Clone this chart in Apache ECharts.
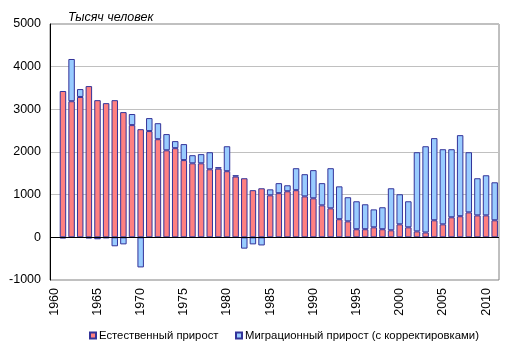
<!DOCTYPE html>
<html><head><meta charset="utf-8">
<script src="https://cdn.jsdelivr.net/npm/echarts@6/dist/echarts.min.js"></script>
<style>html,body{margin:0;padding:0;background:#fff}#c{width:514px;height:357px}</style>
</head><body><div id="c"></div>
<script>
var years = [];
for (var y = 1960; y <= 2011; y++) years.push(String(y));
var natural = [null,
 3430, 3190, 3290, 3545, 3215, 3145, 3215, 2935, 2630,
 2535, 2490, 2300, 2040, 2090, 1810, 1735, 1735, 1595, 1610,
 1550, 1425, 1385, 1105, 1150, 985, 1035, 1080, 1105, 960,
 915, 750, 680, 425, 375, 190, 190, 235, 190, 165,
 305, 235, 140, 115, 400, 305, 470, 495, 585, 515,
 515, 400];
var migration = [null,
 -25, 990, 185, -25, -45, -20, -210, -165, 260,
 -705, 305, 375, 380, 165, 375, 190, 215, 400, 35,
 585, 30, -265, -165, -190, 140, 235, 140, 515, 520,
 660, 520, 940, 770, 565, 655, 585, 420, 515, 985,
 705, 610, 1855, 2020, 1925, 1760, 1595, 1900, 1410, 870,
 940, 890];
var seriesNames = ['Естественный прирост', 'Миграционный прирост (с корректировками)'];
var unitLabel = 'Тысяч человек';

var font = '"Liberation Sans", Arial, sans-serif';
function legendFor(name, left) {
  return {
    top: 330, left: left, padding: 0, itemWidth: 6, itemHeight: 6,
    icon: 'rect',
    textStyle: {fontFamily: font, fontSize: 11.3, color: '#000', padding: [0, 0, 0, -2]},
    data: [name]
  };
}
var chart = echarts.init(document.getElementById('c'));
chart.setOption({
  animation: false,
  textStyle: {fontFamily: font},
  title: {text: unitLabel, left: 63, top: 6,
    textStyle: {fontFamily: font, fontSize: 12.5, fontStyle: 'italic', fontWeight: 'normal', color: '#000'}},
  legend: [legendFor(seriesNames[0], 89), legendFor(seriesNames[1], 235)],
  grid: {left: 50, right: 15, top: 24, bottom: 77, show: true, borderColor: '#808080', borderWidth: 1},
  xAxis: {
    type: 'category', data: years,
    axisLine: {onZero: false, show: false},
    axisTick: {show: false},
    axisLabel: {interval: 4, rotate: 90, fontSize: 12.5, color: '#000', margin: 8, fontFamily: font}
  },
  yAxis: {
    type: 'value', min: -1000, max: 5000, interval: 1000,
    axisLine: {show: true, lineStyle: {color: '#000'}},
    axisTick: {show: false},
    axisLabel: {fontSize: 12.5, color: '#000', margin: 9, fontFamily: font,
      formatter: function (v) { return String(v); }},
    splitLine: {lineStyle: {color: '#c0c0c0'}}
  },
  series: [
    {name: seriesNames[0], type: 'bar', stack: 's', data: natural, barCategoryGap: '25%',
     itemStyle: {color: '#FF8080', borderColor: '#333399', borderWidth: 1},
     markLine: {silent: true, symbol: 'none', label: {show: false},
       lineStyle: {color: '#000', type: 'solid', width: 1}, data: [{yAxis: 0}]}},
    {name: seriesNames[1], type: 'bar', stack: 's', data: migration,
     itemStyle: {color: '#99CCFF', borderColor: '#333399', borderWidth: 1}}
  ]
});
</script></body></html>
